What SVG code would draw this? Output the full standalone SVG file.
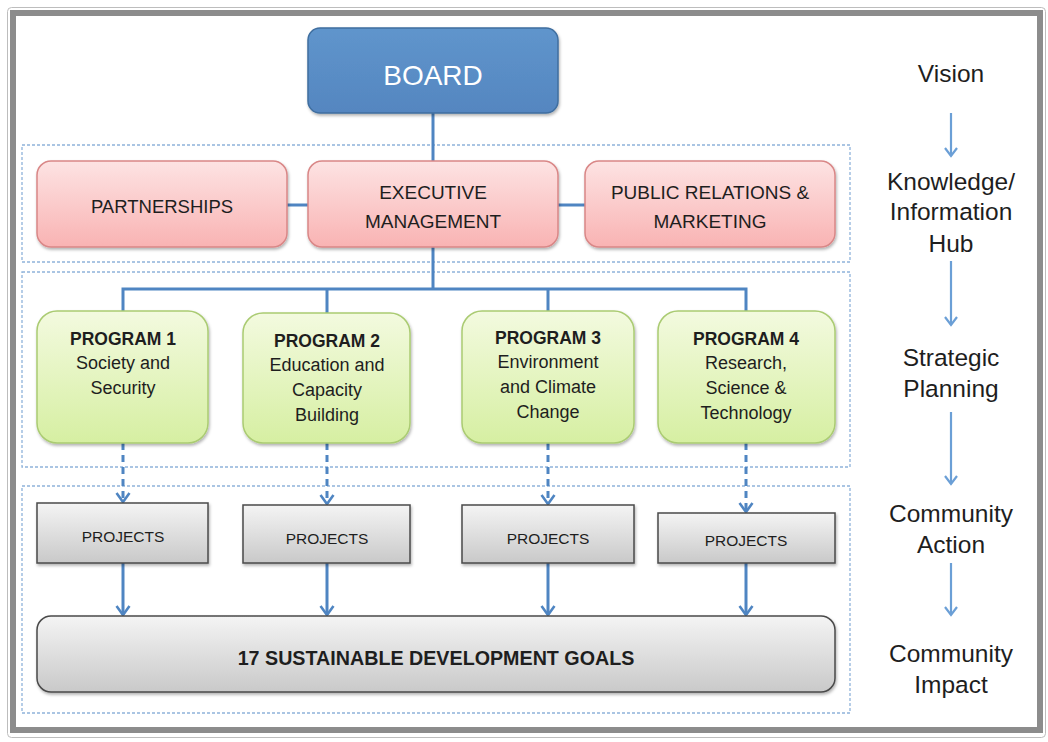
<svg xmlns="http://www.w3.org/2000/svg" width="1048" height="742" viewBox="0 0 1048 742">
<style>
.t{font-family:"Liberation Sans",Arial,sans-serif;fill:#1e1e1e;text-anchor:middle}
.b{font-weight:bold}
.grp{fill:none;stroke:#8fb3da;stroke-width:1.3;stroke-dasharray:3 2}
.con{fill:none;stroke:#4f85c2;stroke-width:3}
.dash{fill:none;stroke:#4f85c2;stroke-width:3;stroke-dasharray:7 5}
.side{fill:none;stroke:#6b9fd6;stroke-width:2.2}
.pink{fill:url(#gPink);stroke:#d98787;stroke-width:1.5}
.green{fill:url(#gGreen);stroke:#aacb72;stroke-width:1.5}
.gray{fill:url(#gGray);stroke:#4a4a4a;stroke-width:1.5}
.pt{font-size:18px}
.sl{font-size:24.5px}
</style>
<defs>
<linearGradient id="gBlue" x1="0" y1="0" x2="0" y2="1"><stop offset="0" stop-color="#5f95cc"/><stop offset="1" stop-color="#5586c0"/></linearGradient>
<linearGradient id="gPink" x1="0" y1="0" x2="0" y2="1"><stop offset="0" stop-color="#fde3e3"/><stop offset="1" stop-color="#f9b3b3"/></linearGradient>
<linearGradient id="gGreen" x1="0" y1="0" x2="0" y2="1"><stop offset="0" stop-color="#f3fadf"/><stop offset="1" stop-color="#d6efa2"/></linearGradient>
<linearGradient id="gGray" x1="0" y1="0" x2="0" y2="1"><stop offset="0" stop-color="#f4f4f4"/><stop offset="1" stop-color="#c9c9c9"/></linearGradient>
<filter id="sh" x="-10%" y="-10%" width="120%" height="130%"><feDropShadow dx="1" dy="2" stdDeviation="1.8" flood-color="#000" flood-opacity="0.3"/></filter>
<marker id="ah" markerUnits="userSpaceOnUse" markerWidth="14" markerHeight="16" viewBox="0 0 14 16" refX="12" refY="8" orient="auto"><path d="M3,1.5 L12,8 L3,14.5" fill="none" stroke="#4f85c2" stroke-width="2.6"/></marker>
<marker id="ahs" markerUnits="userSpaceOnUse" markerWidth="14" markerHeight="16" viewBox="0 0 14 16" refX="12" refY="8" orient="auto"><path d="M4,2 L12,8 L4,14" fill="none" stroke="#6b9fd6" stroke-width="2.2"/></marker>
</defs>
<rect width="1048" height="742" fill="#ffffff"/>
<rect x="7.5" y="7.5" width="1038" height="730" rx="4" fill="none" stroke="#bdbdbd" stroke-width="1"/>
<rect x="13" y="13" width="1027" height="717" fill="#ffffff" stroke="#8c8c8c" stroke-width="6"/>

<g id="groups">
<rect class="grp" x="22" y="145" width="828" height="117"/>
<rect class="grp" x="22" y="272" width="828" height="195"/>
<rect class="grp" x="22" y="486" width="828" height="227"/>
</g>

<g id="connectors">
<path class="con" d="M433,113 V161"/>
<path class="con" d="M287,205 H308 M558,205 H585"/>
<path class="con" d="M433,247 V289 M123,311 V289 H746 V311 M327,289 V313 M548,289 V311"/>
<path class="dash" d="M123,443 V502" marker-end="url(#ah)"/>
<path class="dash" d="M327,443 V504" marker-end="url(#ah)"/>
<path class="dash" d="M548,443 V504" marker-end="url(#ah)"/>
<path class="dash" d="M746,443 V512" marker-end="url(#ah)"/>
<path class="con" d="M123,563 V615" marker-end="url(#ah)"/>
<path class="con" d="M327,563 V615" marker-end="url(#ah)"/>
<path class="con" d="M548,563 V615" marker-end="url(#ah)"/>
<path class="con" d="M746,563 V615" marker-end="url(#ah)"/>
<path class="side" d="M951,113 V156" marker-end="url(#ahs)"/>
<path class="side" d="M951,261 V325" marker-end="url(#ahs)"/>
<path class="side" d="M951,412 V484" marker-end="url(#ahs)"/>
<path class="side" d="M951,563 V615" marker-end="url(#ahs)"/>
</g>

<g id="board">
<rect x="308" y="28" width="250" height="85" rx="12" fill="url(#gBlue)" stroke="#3f6e9f" stroke-width="1.5" filter="url(#sh)"/>
<text class="t" x="433" y="85" font-size="28" style="fill:#ffffff">BOARD</text>
</g>

<g id="partnerships">
<rect class="pink" x="37" y="161" width="250" height="86" rx="14" filter="url(#sh)"/>
<text class="t" x="162" y="213" font-size="18.5">PARTNERSHIPS</text>
</g>
<g id="executive">
<rect class="pink" x="308" y="161" width="250" height="86" rx="14" filter="url(#sh)"/>
<text class="t" x="433" y="199" font-size="19">EXECUTIVE</text>
<text class="t" x="433" y="228" font-size="19">MANAGEMENT</text>
</g>
<g id="pr">
<rect class="pink" x="585" y="161" width="250" height="86" rx="14" filter="url(#sh)"/>
<text class="t" x="710" y="199" font-size="19">PUBLIC RELATIONS &amp;</text>
<text class="t" x="710" y="228" font-size="19">MARKETING</text>
</g>

<g id="program1">
<rect class="green" x="37" y="311" width="171" height="132" rx="20" filter="url(#sh)"/>
<text class="t b" x="123" y="345" font-size="17.5">PROGRAM 1</text>
<text class="t pt" x="123" y="369">Society and</text>
<text class="t pt" x="123" y="394">Security</text>
</g>
<g id="program2">
<rect class="green" x="243" y="313" width="167" height="130" rx="20" filter="url(#sh)"/>
<text class="t b" x="327" y="347" font-size="17.5">PROGRAM 2</text>
<text class="t pt" x="327" y="371">Education and</text>
<text class="t pt" x="327" y="396">Capacity</text>
<text class="t pt" x="327" y="421">Building</text>
</g>
<g id="program3">
<rect class="green" x="462" y="311" width="172" height="132" rx="20" filter="url(#sh)"/>
<text class="t b" x="548" y="344" font-size="17.5">PROGRAM 3</text>
<text class="t pt" x="548" y="368">Environment</text>
<text class="t pt" x="548" y="393">and Climate</text>
<text class="t pt" x="548" y="418">Change</text>
</g>
<g id="program4">
<rect class="green" x="658" y="311" width="177" height="132" rx="20" filter="url(#sh)"/>
<text class="t b" x="746" y="345" font-size="17.5">PROGRAM 4</text>
<text class="t pt" x="746" y="369">Research,</text>
<text class="t pt" x="746" y="394">Science &amp;</text>
<text class="t pt" x="746" y="419">Technology</text>
</g>

<g id="projects1">
<rect class="gray" x="37" y="503" width="171" height="60" filter="url(#sh)"/>
<text class="t" x="123" y="542" font-size="15.5">PROJECTS</text>
</g>
<g id="projects2">
<rect class="gray" x="243" y="505" width="167" height="58" filter="url(#sh)"/>
<text class="t" x="327" y="544" font-size="15.5">PROJECTS</text>
</g>
<g id="projects3">
<rect class="gray" x="462" y="505" width="172" height="58" filter="url(#sh)"/>
<text class="t" x="548" y="544" font-size="15.5">PROJECTS</text>
</g>
<g id="projects4">
<rect class="gray" x="658" y="513" width="177" height="50" filter="url(#sh)"/>
<text class="t" x="746" y="546" font-size="15.5">PROJECTS</text>
</g>

<g id="sdg">
<rect class="gray" x="37" y="616" width="798" height="76" rx="14" filter="url(#sh)"/>
<text class="t b" x="436" y="665" font-size="19.7">17 SUSTAINABLE DEVELOPMENT GOALS</text>
</g>

<g id="side-labels">
<text class="t sl" x="951" y="82">Vision</text>
<text class="t sl" x="951" y="190">Knowledge/</text>
<text class="t sl" x="951" y="220">Information</text>
<text class="t sl" x="951" y="252">Hub</text>
<text class="t sl" x="951" y="366">Strategic</text>
<text class="t sl" x="951" y="397">Planning</text>
<text class="t sl" x="951" y="522">Community</text>
<text class="t sl" x="951" y="553">Action</text>
<text class="t sl" x="951" y="662">Community</text>
<text class="t sl" x="951" y="693">Impact</text>
</g>
</svg>
